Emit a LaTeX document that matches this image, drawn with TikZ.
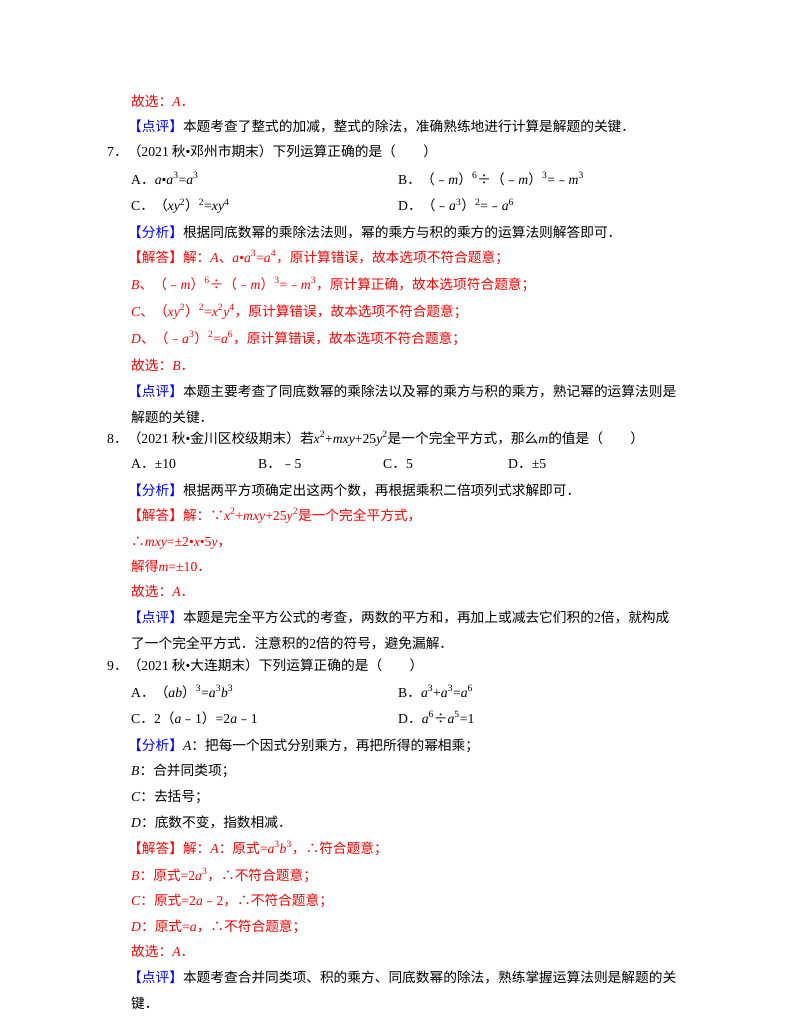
\documentclass[tikz,border=0pt]{standalone}
\usepackage{fontspec}
\setmainfont{Noto Sans CJK SC}
\newfontfamily\lf{Liberation Serif}
\newcommand\mi[1]{{\lf\itshape #1}}
\newcommand\rn[1]{{\lf #1}}
\newcommand\sps[1]{\textsuperscript{\lf #1}}
\definecolor{rd}{RGB}{255,0,0}
\definecolor{bl}{RGB}{0,0,255}
\newcommand\tg[1]{{\color{bl}【#1】}}
\newcommand\tr[1]{{\color{rd}【#1】}}
\begin{document}
\begin{tikzpicture}[x=1pt,y=-1pt,
  t/.style={anchor=base west,inner sep=0pt,font=\fontsize{13.7}{16}\selectfont},
  r/.style={t,text=rd}]
\useasboundingbox[fill=white] (0,0) rectangle (800,1035);
\node[r] (l1) at (131,107) {故选：\mi{A}．};
\node[t] (l2) at (128,132) {\tg{点评}本题考查了整式的加减，整式的除法，准确熟练地进行计算是解题的关键．};
\node[t] (l3) at (107,157) {\rn{7}．（\rn{2021} 秋\rn{•}邓州市期末）下列运算正确的是（　　）};
\node[t] (l4a) at (131,184) {\rn{A}．\mi{a}\rn{•}\mi{a}\sps{3}\rn{=}\mi{a}\sps{3}};
\node[t] (l4b) at (398,184) {\rn{B}．（﹣\mi{m}）\sps{6}÷（﹣\mi{m}）\sps{3}\rn{=}﹣\mi{m}\sps{3}};
\node[t] (l5a) at (131,211) {\rn{C}．（\mi{xy}\sps{2}）\sps{2}\rn{=}\mi{xy}\sps{4}};
\node[t] (l5b) at (398,211) {\rn{D}．（﹣\mi{a}\sps{3}）\sps{2}\rn{=}﹣\mi{a}\sps{6}};
\node[t] (l6) at (128,237) {\tg{分析}根据同底数幂的乘除法法则，幂的乘方与积的乘方的运算法则解答即可．};
\node[r] (l7) at (128,262) {\tr{解答}解：\mi{A}、\mi{a}\rn{•}\mi{a}\sps{3}\rn{=}\mi{a}\sps{4}，原计算错误，故本选项不符合题意；};
\node[r] (l8) at (131,289) {\mi{B}、（﹣\mi{m}）\sps{6}÷（﹣\mi{m}）\sps{3}\rn{=}﹣\mi{m}\sps{3}，原计算正确，故本选项符合题意；};
\node[r] (l9) at (131,316) {\mi{C}、（\mi{xy}\sps{2}）\sps{2}\rn{=}\mi{x}\sps{2}\mi{y}\sps{4}，原计算错误，故本选项不符合题意；};
\node[r] (l10) at (131,343) {\mi{D}、（﹣\mi{a}\sps{3}）\sps{2}\rn{=}\mi{a}\sps{6}，原计算错误，故本选项不符合题意；};
\node[r] (l11) at (131,370) {故选：\mi{B}．};
\node[t] (l12) at (128,396) {\tg{点评}本题主要考查了同底数幂的乘除法以及幂的乘方与积的乘方，熟记幂的运算法则是};
\node[t] (l13) at (131,422) {解题的关键．};
\node[t] (l14) at (107,443) {\rn{8}．（\rn{2021} 秋\rn{•}金川区校级期末）若\mi{x}\sps{2}\rn{+}\mi{mxy}\rn{+25}\mi{y}\sps{2}是一个完全平方式，那么\mi{m}的值是（　　）};
\node[t] (l15a) at (131,468) {\rn{A}．\rn{±10}};
\node[t] (l15b) at (258,468) {\rn{B}．﹣\rn{5}};
\node[t] (l15c) at (383,468) {\rn{C}．\rn{5}};
\node[t] (l15d) at (508,468) {\rn{D}．\rn{±5}};
\node[t] (l16) at (128,495) {\tg{分析}根据两平方项确定出这两个数，再根据乘积二倍项列式求解即可．};
\node[r] (l17) at (128,520) {\tr{解答}解：∵\mi{x}\sps{2}\rn{+}\mi{mxy}\rn{+25}\mi{y}\sps{2}是一个完全平方式，};
\node[r] (l18) at (131,546) {∴\mi{mxy}\rn{=±2•}\mi{x}\rn{•5}\mi{y}，};
\node[r] (l19) at (131,571) {解得\mi{m}\rn{=±10}．};
\node[r] (l20) at (131,596) {故选：\mi{A}．};
\node[t] (l21) at (128,622) {\tg{点评}本题是完全平方公式的考查，两数的平方和，再加上或减去它们积的\rn{2}倍，就构成};
\node[t] (l22) at (131,648) {了一个完全平方式．注意积的\rn{2}倍的符号，避免漏解．};
\node[t] (l23) at (107,670) {\rn{9}．（\rn{2021} 秋\rn{•}大连期末）下列运算正确的是（　　）};
\node[t] (l24a) at (131,697) {\rn{A}．（\mi{ab}）\sps{3}\rn{=}\mi{a}\sps{3}\mi{b}\sps{3}};
\node[t] (l24b) at (398,697) {\rn{B}．\mi{a}\sps{3}\rn{+}\mi{a}\sps{3}\rn{=}\mi{a}\sps{6}};
\node[t] (l25a) at (131,723) {\rn{C}．\rn{2}（\mi{a}﹣\rn{1}）\rn{=2}\mi{a}﹣\rn{1}};
\node[t] (l25b) at (398,723) {\rn{D}．\mi{a}\sps{6}÷\mi{a}\sps{5}\rn{=1}};
\node[t] (l26) at (128,750) {\tg{分析}\mi{A}：把每一个因式分别乘方，再把所得的幂相乘；};
\node[t] (l27) at (131,775) {\mi{B}：合并同类项；};
\node[t] (l28) at (131,801) {\mi{C}：去括号；};
\node[t] (l29) at (131,827) {\mi{D}：底数不变，指数相减．};
\node[r] (l30) at (128,853) {\tr{解答}解：\mi{A}：原式\rn{=}\mi{a}\sps{3}\mi{b}\sps{3}，∴符合题意；};
\node[r] (l31) at (131,880) {\mi{B}：原式\rn{=2}\mi{a}\sps{3}，∴不符合题意；};
\node[r] (l32) at (131,905) {\mi{C}：原式\rn{=2}\mi{a}﹣\rn{2}，∴不符合题意；};
\node[r] (l33) at (131,931) {\mi{D}：原式\rn{=}\mi{a}，∴不符合题意；};
\node[r] (l34) at (131,956) {故选：\mi{A}．};
\node[t] (l35) at (128,982) {\tg{点评}本题考查合并同类项、积的乘方、同底数幂的除法，熟练掌握运算法则是解题的关};
\node[t] (l36) at (131,1008) {键．};
\end{tikzpicture}
\end{document}
